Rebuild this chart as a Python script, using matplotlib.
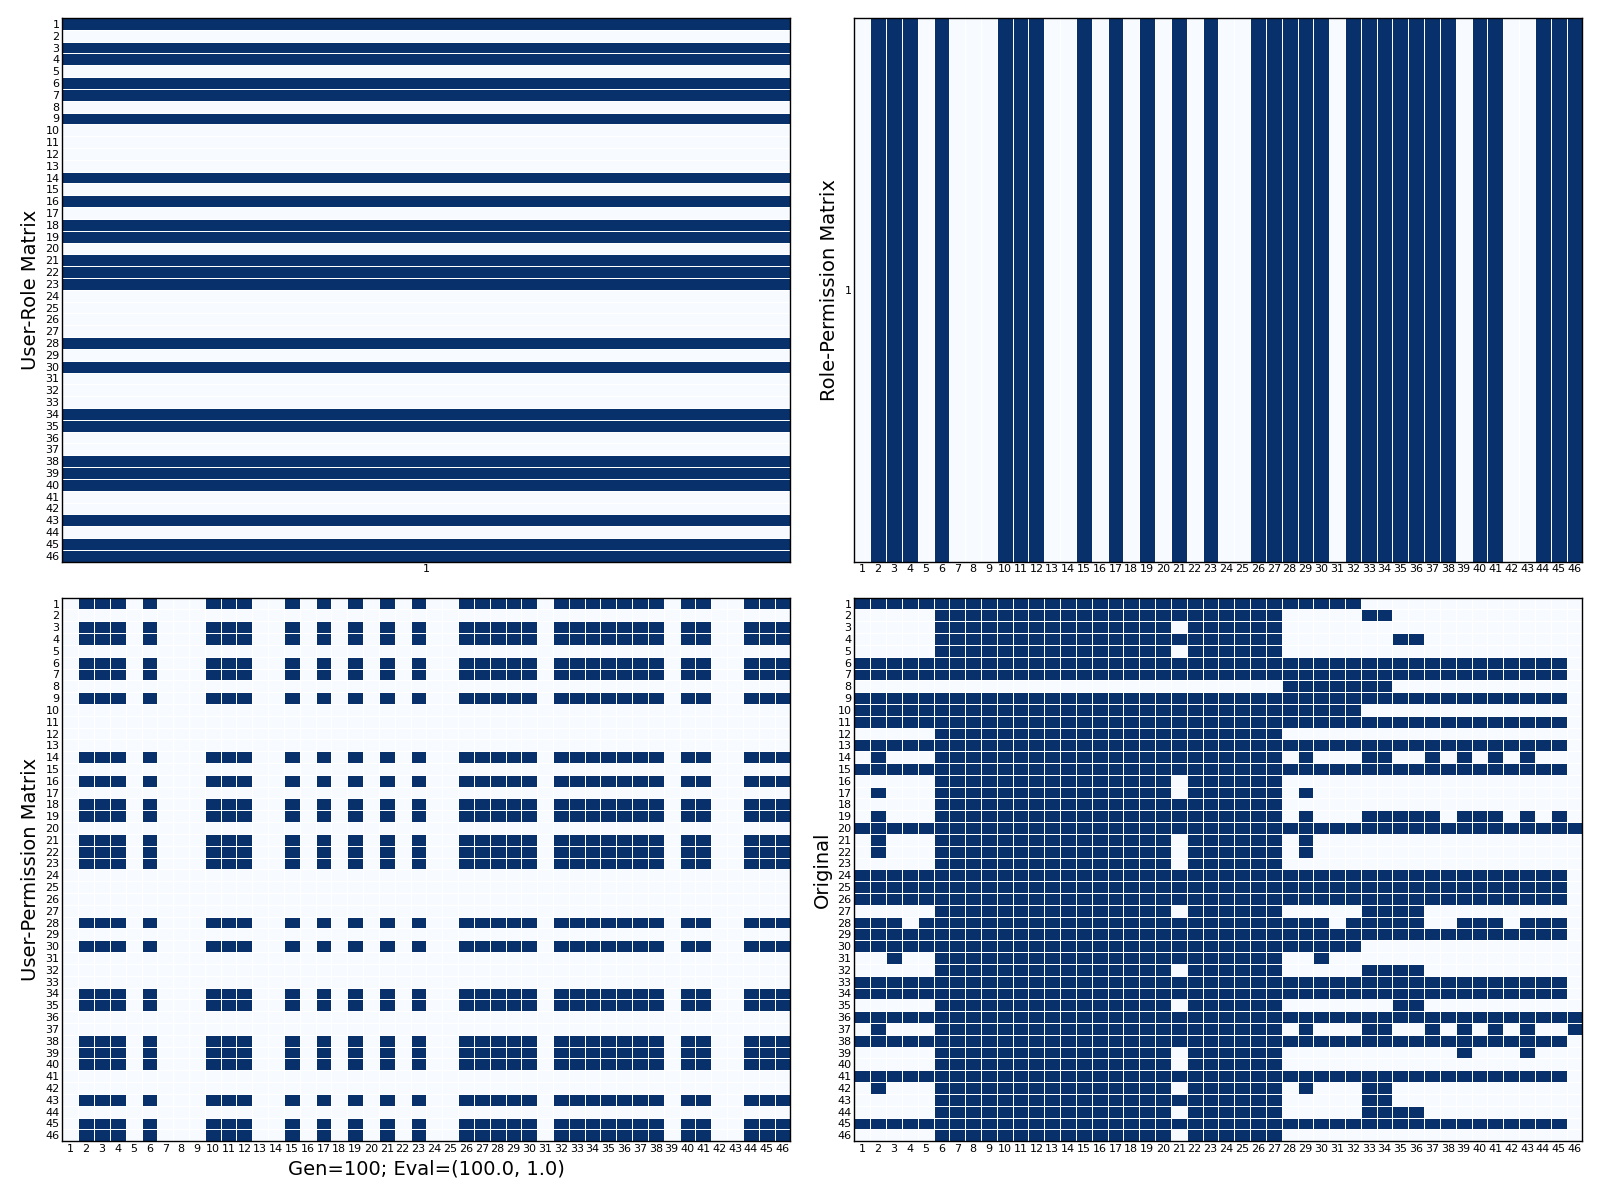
import numpy as np
import matplotlib.pyplot as plt

n = 46
labels = [str(i) for i in range(1, n + 1)]

# users holding the single role (1 = dark)
user_role = [1, 0, 1, 1, 0, 1, 1, 0, 1, 0, 0, 0, 0, 1, 0, 1, 0, 1, 1, 0,
             1, 1, 1, 0, 0, 0, 0, 1, 0, 1, 0, 0, 0, 1, 1, 0, 0, 1, 1, 1,
             0, 0, 1, 0, 1, 1]

# permissions of the role
role_perm = [0, 1, 1, 1, 0, 1, 0, 0, 0, 1, 1, 1, 0, 0, 1, 0, 1, 0, 1, 0,
             1, 0, 1, 0, 0, 1, 1, 1, 1, 1, 0, 1, 1, 1, 1, 1, 1, 1, 0, 1,
             1, 0, 0, 1, 1, 1]

# original user-permission matrix, one string per user (groups of 5 columns)
original_rows = [
    "11111 11111 11111 11111 11111 11111 11000 00000 00000 0",  # 1
    "00000 11111 11111 11111 11111 11000 00110 00000 00000 0",  # 2
    "00000 11111 11111 11111 01111 11000 00000 00000 00000 0",  # 3
    "00000 11111 11111 11111 11111 11000 00001 10000 00000 0",  # 4
    "00000 11111 11111 11111 01111 11000 00000 00000 00000 0",  # 5
    "11111 11111 11111 11111 11111 11111 11111 11111 11111 0",  # 6
    "11111 11111 11111 11111 11111 11111 11111 11111 11111 0",  # 7
    "00000 00000 00000 00000 00000 00111 11110 00000 00000 0",  # 8
    "11111 11111 11111 11111 11111 11111 11111 11111 11111 0",  # 9
    "11111 11111 11111 11111 11111 11111 11000 00000 00000 0",  # 10
    "11111 11111 11111 11111 11111 11111 11111 11111 11111 0",  # 11
    "00000 11111 11111 11111 11111 11000 00000 00000 00000 0",  # 12
    "11111 11111 11111 11111 11111 11111 11111 11111 11111 0",  # 13
    "01000 11111 11111 11111 11111 11010 00110 01010 10100 0",  # 14
    "11111 11111 11111 11111 11111 11111 11111 11111 11111 0",  # 15
    "00000 11111 11111 11111 01111 11000 00000 00000 00000 0",  # 16
    "01000 11111 11111 11111 01111 11010 00000 00000 00000 0",  # 17
    "00000 11111 11111 11111 11111 11000 00000 00000 00000 0",  # 18
    "01000 11111 11111 11111 11111 11010 00111 11011 10101 0",  # 19
    "11111 11111 11111 11111 11111 11111 11111 11111 11111 1",  # 20
    "01000 11111 11111 11111 01111 11010 00000 00000 00000 0",  # 21
    "01000 11111 11111 11111 01111 11010 00000 00000 00000 0",  # 22
    "00000 11111 11111 11111 01111 11000 00000 00000 00000 0",  # 23
    "11111 11111 11111 11111 11111 11111 11111 11111 11111 0",  # 24
    "11111 11111 11111 11111 11111 11111 11111 11111 11111 0",  # 25
    "11111 11111 11111 11111 11111 11111 11111 11111 11111 0",  # 26
    "00000 11111 11111 11111 01111 11000 00111 10000 00000 0",  # 27
    "11101 11111 11111 11111 11111 11111 01111 10011 10111 0",  # 28
    "11111 11111 11111 11111 11111 11111 11111 11111 11111 0",  # 29
    "11111 11111 11111 11111 11111 11111 11000 00000 00000 0",  # 30
    "00100 11111 11111 11111 11111 11001 00000 00000 00000 0",  # 31
    "00000 11111 11111 11111 01111 11000 00111 10000 00000 0",  # 32
    "11111 11111 11111 11111 11111 11111 11111 11111 11111 0",  # 33
    "11111 11111 11111 11111 11111 11111 11111 11111 11111 0",  # 34
    "00000 11111 11111 11111 01111 11000 00001 10000 00000 0",  # 35
    "11111 11111 11111 11111 11111 11111 11111 11111 11111 1",  # 36
    "01000 11111 11111 11111 11111 11010 00110 01010 10100 1",  # 37
    "11111 11111 11111 11111 11111 11111 11111 11111 11111 0",  # 38
    "00000 11111 11111 11111 01111 11000 00000 00010 00100 0",  # 39
    "00000 11111 11111 11111 01111 11000 00000 00000 00000 0",  # 40
    "11111 11111 11111 11111 11111 11111 11111 11111 11111 0",  # 41
    "01000 11111 11111 11111 01111 11010 00110 00000 00000 0",  # 42
    "00000 11111 11111 11111 11111 11000 00110 00000 00000 0",  # 43
    "00000 11111 11111 11111 01111 11000 00111 10000 00000 0",  # 44
    "11111 11111 11111 11111 11111 11111 11111 11111 11111 0",  # 45
    "00000 11111 11111 11111 01111 11000 00000 00000 00000 0",  # 46
]

ua = np.array(user_role, dtype=float).reshape(-1, 1)
pa = np.array(role_perm, dtype=float).reshape(1, -1)
upa = ua @ pa
orig = np.array([[int(c) for c in r.replace(" ", "")] for r in original_rows], dtype=float)

fig = plt.figure(figsize=(16, 12), dpi=100)


def draw(rect, data, ylabel, xt, yt, xlabel=None):
    ax = fig.add_axes(rect)
    ax.pcolormesh(data, cmap="Blues", vmin=0, vmax=1,
                  edgecolors="white", linewidth=0.5)
    ax.set_xlim(0, data.shape[1])
    ax.set_ylim(data.shape[0], 0)
    ax.set_xticks(np.arange(data.shape[1]) + 0.5)
    ax.set_xticklabels(xt, fontsize=8)
    ax.set_yticks(np.arange(data.shape[0]) + 0.5)
    ax.set_yticklabels(yt, fontsize=8)
    ax.tick_params(length=0, pad=2)
    ax.set_ylabel(ylabel, fontsize=14)
    if xlabel:
        ax.set_xlabel(xlabel, fontsize=14)
    for s in ax.spines.values():
        s.set_linewidth(1.0)
    return ax


draw([0.039, 0.532, 0.455, 0.453], ua, "User-Role Matrix", ["1"], labels)
draw([0.534, 0.532, 0.455, 0.453], pa, "Role-Permission Matrix", labels, ["1"])
draw([0.039, 0.049, 0.455, 0.453], upa, "User-Permission Matrix", labels, labels,
     xlabel="Gen=100; Eval=(100.0, 1.0)")
draw([0.534, 0.049, 0.455, 0.453], orig, "Original", labels, labels)

fig.savefig("out.png", dpi=100)
